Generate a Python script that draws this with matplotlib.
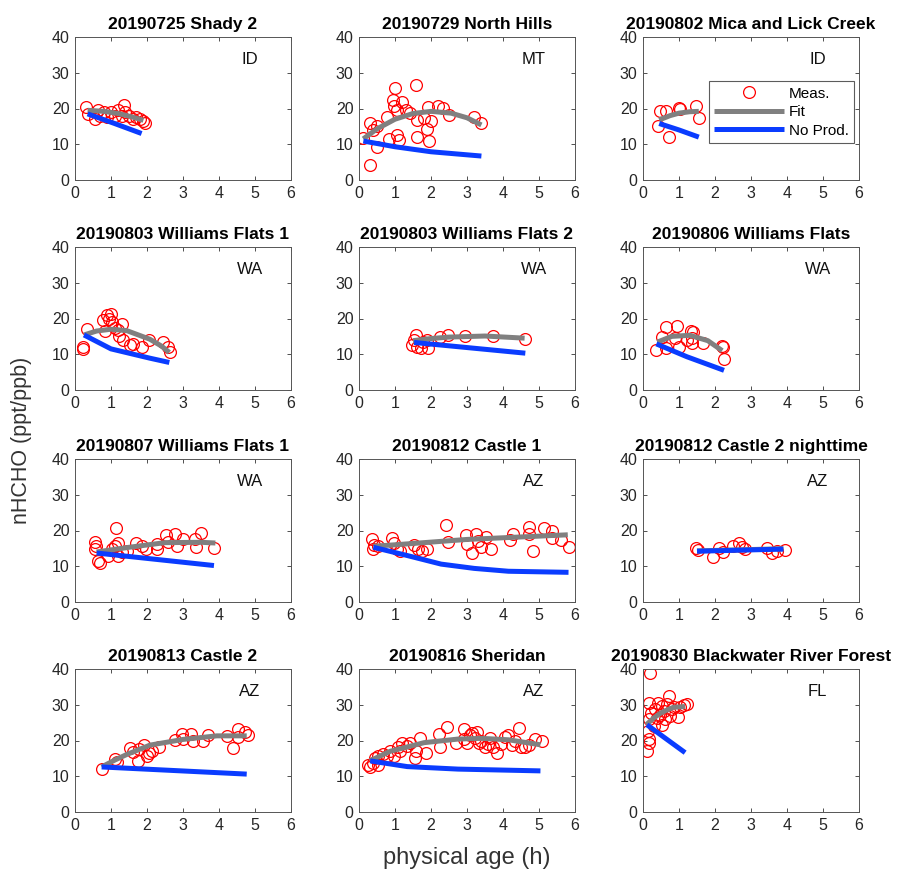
import matplotlib
matplotlib.use("Agg")
import matplotlib.pyplot as plt
import numpy as np

plt.rcParams['font.family'] = ['Liberation Sans', 'DejaVu Sans']

titles = ["20190725 Shady 2", "20190729 North Hills", "20190802 Mica and Lick Creek",
          "20190803 Williams Flats 1", "20190803 Williams Flats 2", "20190806 Williams Flats",
          "20190807 Williams Flats 1", "20190812 Castle 1", "20190812 Castle 2 nighttime",
          "20190813 Castle 2", "20190816 Sheridan", "20190830 Blackwater River Forest"]
states = ["ID", "MT", "ID", "WA", "WA", "WA", "WA", "AZ", "AZ", "AZ", "AZ", "FL"]

# measured points (age h, nHCHO)
meas_x = [
    [0.3, 0.35, 0.55, 0.65, 0.7, 0.8, 0.9, 1.0, 1.1, 1.2, 1.3, 1.35, 1.4, 1.5, 1.6, 1.7, 1.8, 1.9, 1.95],
    [0.12, 0.31, 0.31, 0.4, 0.5, 0.5, 0.78, 0.82, 1.01, 0.95, 0.97, 1.06, 1.06, 1.1, 1.2, 1.3, 1.43, 1.57,
     1.6, 1.6, 1.8, 1.88, 1.92, 1.95, 2.0, 2.2, 2.33, 2.51, 3.2, 3.4],
    [0.41, 0.46, 0.65, 0.71, 1.0, 1.03, 1.48, 1.56],
    [0.21, 0.23, 0.32, 0.79, 0.83, 0.88, 0.95, 0.99, 1.02, 1.11, 1.2, 1.3, 1.23, 1.34, 1.53, 1.62, 1.85,
     2.06, 2.45, 2.59, 2.64],
    [1.48, 1.53, 1.57, 1.62, 1.72, 1.79, 1.88, 1.92, 2.26, 2.48, 2.95, 3.73, 4.62],
    [0.37, 0.53, 0.65, 0.65, 0.9, 0.94, 0.99, 1.22, 1.33, 1.36, 1.39, 1.36, 1.68, 2.19, 2.23, 2.25],
    [0.56, 0.58, 0.56, 0.65, 0.69, 0.93, 1.02, 1.11, 1.14, 1.2, 1.2, 1.3, 1.44, 1.69, 1.85, 1.97, 2.27,
     2.29, 2.53, 2.59, 2.78, 2.82, 3.0, 3.33, 3.36, 3.49, 3.86],
    [0.36, 0.38, 0.42, 0.52, 0.92, 0.97, 1.06, 1.15, 1.53, 1.64, 1.76, 1.88, 2.42, 2.46, 2.98, 3.01, 3.14,
     3.26, 3.31, 3.4, 3.54, 3.68, 4.2, 4.29, 4.71, 4.71, 4.83, 5.14, 5.37, 5.35, 5.6, 5.82],
    [1.48, 1.52, 1.94, 2.1, 2.22, 2.51, 2.68, 2.74, 2.84, 3.44, 3.58, 3.72, 3.95],
    [0.74, 1.11, 1.16, 1.53, 1.62, 1.74, 1.79, 1.92, 2.01, 2.06, 2.13, 2.34, 2.78, 2.96, 3.0, 3.21, 3.29,
     3.55, 3.7, 4.21, 4.4, 4.54, 4.54, 4.72, 4.81],
    [0.26, 0.31, 0.4, 0.45, 0.52, 0.54, 0.67, 0.78, 0.85, 0.97, 1.08, 1.15, 1.2, 1.34, 1.43, 1.55, 1.58,
     1.7, 1.86, 2.23, 2.26, 2.45, 2.7, 2.91, 2.93, 3.01, 3.07, 3.14, 3.21, 3.29, 3.33, 3.4, 3.5, 3.57,
     3.64, 3.73, 3.82, 3.95, 4.06, 4.15, 4.26, 4.34, 4.45, 4.51, 4.62, 4.71, 4.88, 5.07],
    [0.2, 0.11, 0.16, 0.18, 0.13, 0.16, 0.18, 0.22, 0.3, 0.34, 0.39, 0.43, 0.48, 0.53, 0.53, 0.58, 0.62,
     0.71, 0.68, 0.76, 0.8, 0.85, 0.96, 1.04, 1.13, 1.22],
]
meas_y = [
    [20.5, 18.5, 17.0, 19.5, 18.0, 19.0, 17.5, 19.0, 18.0, 19.5, 18.0, 21.0, 19.0, 18.0, 17.0, 17.5, 17.0, 16.5, 16.0],
    [11.7, 4.2, 15.9, 14.0, 9.2, 15.0, 17.6, 11.4, 25.7, 22.4, 20.6, 19.6, 12.6, 11.2, 21.7, 19.6, 18.7, 26.6,
     12.1, 16.8, 17.3, 14.2, 20.4, 10.9, 16.6, 20.7, 20.1, 18.2, 17.6, 15.9],
    [15.0, 19.4, 19.3, 12.1, 20.1, 19.8, 20.6, 17.3],
    [12.1, 11.4, 17.0, 19.6, 16.6, 21.0, 19.9, 21.3, 18.9, 17.3, 16.8, 18.4, 15.0, 14.0, 12.6, 12.9, 12.0,
     14.0, 13.3, 12.1, 10.5],
    [12.6, 14.0, 15.4, 12.1, 11.7, 13.3, 14.0, 11.7, 14.8, 15.4, 15.0, 15.2, 14.2],
    [11.2, 14.8, 17.6, 11.7, 14.5, 17.8, 12.1, 14.0, 16.6, 14.5, 16.1, 13.2, 13.1, 12.3, 12.0, 8.7],
    [16.7, 15.6, 14.8, 11.6, 10.8, 13.0, 14.8, 15.7, 20.6, 16.5, 13.0, 13.9, 14.4, 16.5, 15.7, 14.8, 14.8,
     16.2, 18.7, 16.7, 19.1, 15.7, 17.5, 17.5, 15.5, 19.4, 15.1],
    [17.6, 14.7, 15.9, 15.7, 18.0, 16.5, 14.8, 14.4, 15.9, 14.8, 14.4, 14.8, 21.5, 16.7, 18.7, 16.2, 13.7,
     19.0, 17.1, 15.3, 18.1, 14.8, 17.4, 19.0, 21.1, 19.0, 14.4, 20.6, 19.9, 17.8, 17.4, 15.3],
    [15.1, 14.6, 12.5, 15.0, 13.9, 15.7, 16.4, 15.5, 14.8, 15.0, 13.7, 14.4, 14.6],
    [12.0, 14.8, 14.1, 17.8, 16.7, 14.4, 17.6, 18.7, 15.7, 16.5, 17.1, 18.3, 20.2, 21.7, 20.3, 21.7, 19.9,
     19.9, 21.5, 21.3, 18.0, 23.1, 21.1, 22.4, 21.5],
    [13.2, 12.6, 13.8, 15.0, 13.2, 15.7, 16.2, 15.7, 17.0, 15.7, 18.3, 17.0, 19.2, 18.5, 19.4, 15.0, 17.0,
     20.8, 16.5, 21.7, 18.3, 23.9, 19.4, 23.1, 20.4, 19.4, 21.5, 22.2, 20.8, 22.4, 19.4, 19.9, 18.3, 19.0,
     20.8, 18.3, 16.5, 19.0, 21.1, 21.5, 18.7, 19.9, 23.6, 18.3, 18.3, 18.7, 20.3, 19.9],
    [38.8, 17.1, 19.4, 20.3, 22.6, 25.9, 30.5, 27.8, 24.1, 28.7, 26.3, 30.6, 27.2, 24.4, 29.6, 28.2, 26.1,
     32.4, 30.2, 26.9, 28.7, 29.5, 26.6, 29.3, 30.0, 30.3],
]

# fitted curves
fit_x = [
    [0.35, 0.8, 1.2, 1.6, 1.9],
    [0.12, 0.5, 1.0, 1.5, 2.0, 2.56, 3.0, 3.4],
    [0.45, 0.75, 1.0, 1.3, 1.55],
    [0.25, 0.6, 1.0, 1.44, 2.08, 2.4, 2.62],
    [1.5, 2.0, 2.5, 3.5, 4.6],
    [0.4, 0.8, 1.3, 1.8, 2.2],
    [0.6, 1.5, 2.5, 3.5, 3.9],
    [0.4, 1.0, 3.0, 5.8],
    [1.5, 3.9],
    [0.74, 1.1, 1.44, 2.08, 3.0, 3.94, 4.77],
    [0.3, 0.87, 1.81, 2.75, 3.4, 4.15, 5.04],
    [0.09, 0.3, 0.48, 0.7, 0.85, 1.17],
]
fit_y = [
    [19.5, 19.2, 18.6, 17.6, 16.7],
    [11.5, 14.3, 17.0, 18.6, 19.2, 18.7, 17.4, 15.4],
    [16.8, 18.0, 18.7, 19.1, 19.2],
    [15.4, 16.5, 17.0, 16.6, 14.2, 12.3, 10.5],
    [13.8, 14.4, 14.8, 15.1, 14.5],
    [13.4, 15.0, 15.3, 13.8, 11.0],
    [14.0, 15.3, 16.6, 16.7, 16.5],
    [15.6, 16.0, 17.5, 18.8],
    [14.3, 14.9],
    [12.6, 14.5, 16.1, 18.7, 20.3, 21.3, 21.3],
    [14.3, 17.0, 19.4, 20.4, 20.6, 20.2, 18.8],
    [24.4, 26.3, 27.6, 28.7, 29.3, 29.5],
]

# no-production curves
np_x = [
    [0.35, 1.1, 1.85],
    [0.12, 1.0, 2.0, 3.4],
    [0.45, 1.0, 1.55],
    [0.25, 1.0, 2.08, 2.62],
    [1.53, 4.62],
    [0.37, 1.22, 2.25],
    [0.6, 3.86],
    [0.4, 1.34, 2.28, 3.2, 4.15, 5.82],
    [1.5, 3.9],
    [0.74, 4.77],
    [0.31, 1.34, 2.75, 5.04],
    [0.11, 0.57, 1.17],
]
np_y = [
    [18.5, 15.8, 13.0],
    [10.9, 9.3, 7.9, 6.7],
    [15.8, 14.0, 12.0],
    [15.4, 11.5, 8.9, 7.7],
    [13.3, 10.3],
    [12.9, 9.3, 5.5],
    [13.7, 10.2],
    [15.3, 13.0, 10.6, 9.4, 8.6, 8.3],
    [14.2, 14.8],
    [12.6, 10.6],
    [14.3, 12.7, 12.0, 11.5],
    [24.4, 21.0, 16.6],
]

W, H = 914, 877
fig = plt.figure(figsize=(W / 100, H / 100), dpi=100)
lefts = [75, 359, 643]
tops = [37, 247, 459, 669]
aw, ah = 216, 143

red = '#ff0000'
gray = '#808080'
blue = '#0a3cff'
tick_col = '#262626'

for i in range(12):
    r, c = divmod(i, 3)
    ax = fig.add_axes([lefts[c] / W, 1 - (tops[r] + ah) / H, aw / W, ah / H])
    h1, = ax.plot(meas_x[i], meas_y[i], 'o', mfc='none', mec=red, mew=0.9, ms=8.5, zorder=2, label='Meas.')
    h2, = ax.plot(fit_x[i], fit_y[i], '-', color=gray, lw=3.6, solid_capstyle='butt', zorder=3, label='Fit')
    h3, = ax.plot(np_x[i], np_y[i], '-', color=blue, lw=3.6, solid_capstyle='butt', zorder=4, label='No Prod.')
    ax.set_xlim(0, 6)
    ax.set_ylim(0, 40)
    ax.set_xticks([0, 1, 2, 3, 4, 5, 6])
    ax.set_yticks([0, 10, 20, 30, 40])
    ax.tick_params(direction='in', top=True, right=True, length=3, width=0.6,
                   labelsize=11.5, colors='#333333', labelcolor=tick_col, pad=4)
    for sp in ax.spines.values():
        sp.set_color('#555555')
        sp.set_linewidth(0.7)
    ax.set_title(titles[i], fontsize=12.5, fontweight='bold', pad=6)
    ax.text(4.85, 33.8, states[i], fontsize=12, ha='center', va='center', color='#111111')
    if i == 2:
        ax.legend(handles=[h1, h2, h3], loc='upper right', bbox_to_anchor=(0.978, 0.69),
                  fontsize=11, frameon=True, fancybox=False, edgecolor='#333333',
                  handlelength=4.6, borderpad=0.35, labelspacing=0.3, handletextpad=0.3,
                  borderaxespad=0)
        ax.get_legend().get_frame().set_linewidth(0.8)

fig.text(22 / W, 1 - 440 / H, 'nHCHO (ppt/ppb)', rotation=90, ha='center', va='center',
         fontsize=15.5, color='#333333')
fig.text(467 / W, 1 - 858 / H, 'physical age (h)', ha='center', va='center',
         fontsize=17, color='#333333')

fig.savefig('out.png', dpi=100)
